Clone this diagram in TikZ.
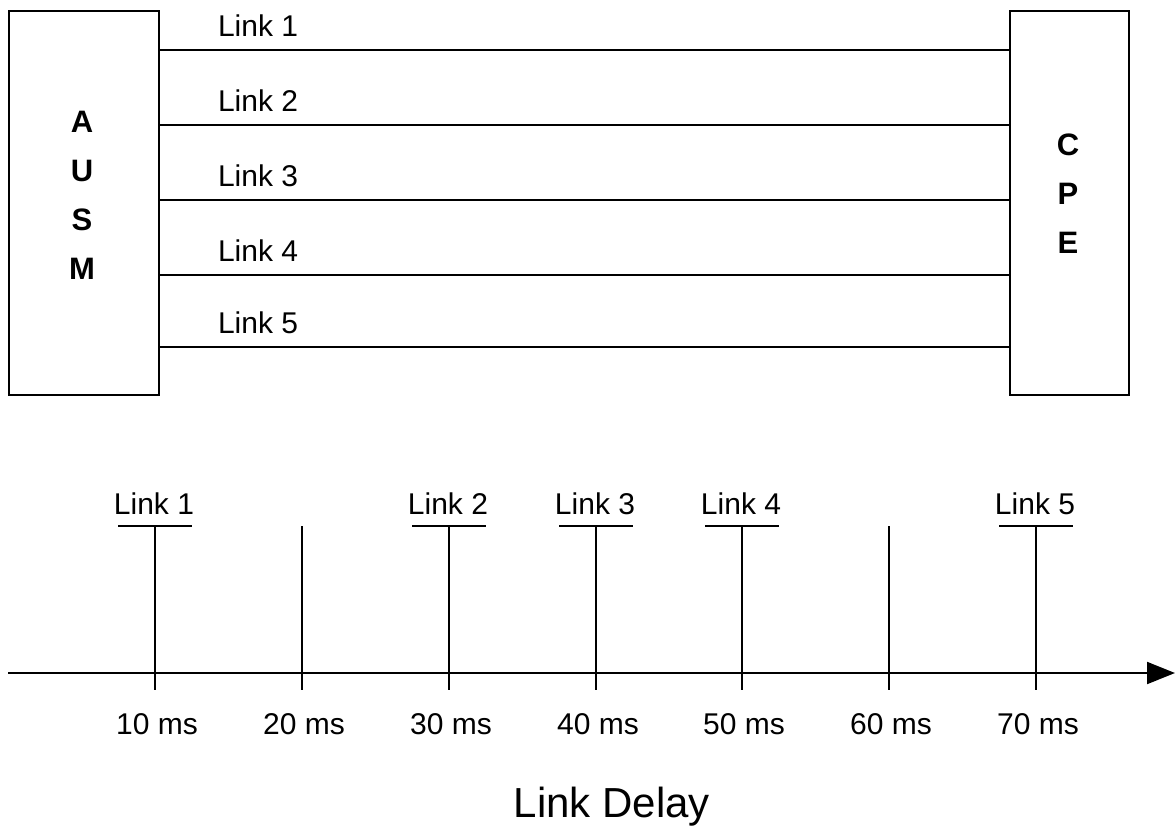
\documentclass[tikz,border=0pt]{standalone}
\usepackage{fontspec}
\setmainfont{Liberation Sans}
\usetikzlibrary{arrows.meta,calc}
\begin{document}
\begin{tikzpicture}[x=1pt,y=-1pt,
  line width=2pt,
  box/.style={draw,line width=2pt,inner sep=0pt,anchor=north west},
  lbl/.style={font=\fontsize{30}{30}\selectfont,inner sep=0pt},
  boxtxt/.style={font=\fontsize{31}{49}\selectfont\bfseries,align=center,inner sep=0pt},
  tick/.style={line width=2pt}]
\useasboundingbox (0,0) rectangle (1175,827);
% boxes
\node[box,minimum width=150pt,minimum height=384pt] (ausm) at (8,10) {};
\node[box,minimum width=119pt,minimum height=384pt] (cpe) at (1009,10) {};
\node[boxtxt] (ausmt) at (82,195) {A\\U\\S\\M};
\node[boxtxt] (cpet) at (1068,194) {C\\P\\E};
% links
\foreach \i/\y in {1/50,2/125,3/200,4/275,5/347}{
  \coordinate (la\i) at (ausm.east |- 0,\y);
  \coordinate (lb\i) at (cpe.west |- 0,\y);
  \draw (la\i) -- (lb\i);
  \node[lbl,anchor=base west] (lt\i) at (217,\y-14) {Link \i};
}
% axis
\coordinate (axs) at (8,673);
\coordinate (axe) at (1175,673);
\draw[-{Triangle[length=28pt,width=22pt]}] (axs) -- (axe);
\foreach \k/\x in {1/155,2/302,3/449,4/596,5/742,6/889,7/1036}{
  \coordinate (tt\k) at (\x,526);
  \coordinate (tb\k) at (\x,690);
  \draw[tick] (tt\k) -- (tb\k);
  \node[lbl] (ms\k) at (\x+2,724) {\k0 ms};
}
\foreach \k/\n in {1/1,3/2,4/3,5/4,7/5}{
  \coordinate (bl\k) at ($(tt\k)+(-37,0)$);
  \coordinate (br\k) at ($(tt\k)+(37,0)$);
  \draw (bl\k) -- (br\k);
  \node[lbl,anchor=base] (dl\k) at ($(tt\k)+(-1,-12)$) {Link \n};
}
\node[font=\fontsize{42}{42}\selectfont,inner sep=0pt] (delay) at (612,807) {Link Delay};
\end{tikzpicture}
\end{document}
